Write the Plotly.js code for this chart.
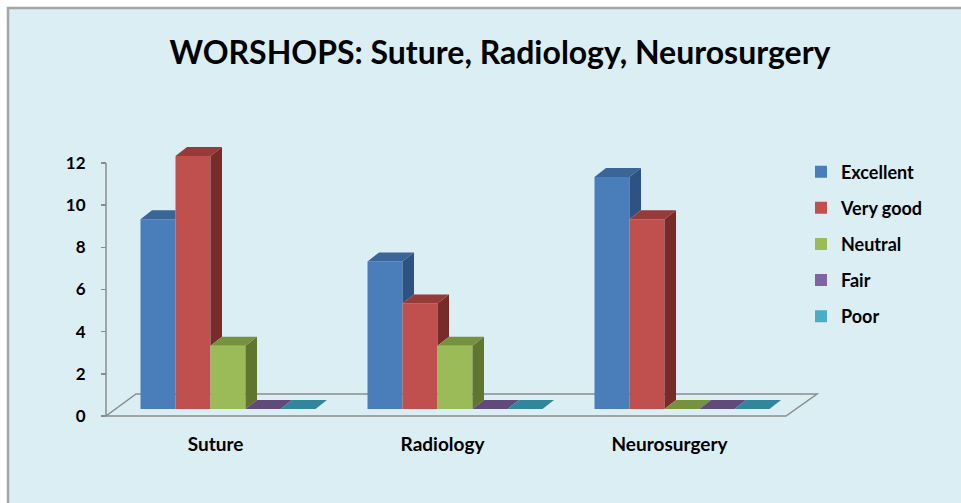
<!DOCTYPE html>
<html>
<head>
<meta charset="utf-8">
<script src="https://cdn.plot.ly/plotly-3.0.1.min.js"></script>
<style>html,body{margin:0;padding:0;background:#fff;}#chart{width:961px;height:503px;}</style>
</head>
<body>
<div id="chart"></div>
<script>
// ---- data ----
const categories = ['Suture', 'Radiology', 'Neurosurgery'];
const seriesNames = ['Excellent', 'Very good', 'Neutral', 'Fair', 'Poor'];
const excellent = [9, 7, 11];
const veryGood = [12, 5, 9];
const neutral = [3, 3, 0];
const fair = [0, 0, 0];
const poor = [0, 0, 0];
const yTicks = [0, 2, 4, 6, 8, 10, 12];
const chartTitle = 'WORSHOPS: Suture, Radiology, Neurosurgery';

// ---- styles ----
const frontColors = ['#4a7ebb', '#c0504d', '#9bbb59', '#8064a2', '#4bacc6'];
const topColors   = ['#3a6596', '#963b39', '#76923c', '#5f4a7b', '#31859c'];
const sideColors  = ['#2e5382', '#772c2a', '#5f7530', '#4d3b63', '#276a7c'];
const FONT = 'Lato, "Open Sans", sans-serif';
const BAR_W = 35 / 227;      // bar width in category units
const DX = 11.5 / 227;       // depth offset (x units)
const DY = 9 / 21.08;        // depth offset (y units)
const LABEL_SHIFT = 0.055;   // category labels sit on the front floor edge

const series = [excellent, veryGood, neutral, fair, poor];
const catIdx = categories.map((_, i) => i);

const traces = [];
// front faces: real bar traces
series.forEach((vals, s) => {
  traces.push({
    type: 'bar', name: seriesNames[s], x: catIdx, y: vals,
    width: BAR_W, offset: (s - 2.5) * BAR_W,
    xaxis: 'x', yaxis: 'y2',
    marker: {color: frontColors[s], line: {width: 0}},
    legendgroup: 'g' + s, hoverinfo: 'name+y'
  });
});
// top and side faces, derived from the same values
series.forEach((vals, s) => {
  const sx = [], sy = [], tx = [], ty = [];
  catIdx.forEach(c => {
    const v = vals[c];
    const nextV = s < series.length - 1 ? series[s + 1][c] : 0;
    const xl = c + (s - 2.5) * BAR_W, xr = xl + BAR_W;
    // side face (only part not hidden by the next bar)
    const base = Math.max(0, nextV);
    if (v > base) {
      sx.push(xr, xr, xr + DX, xr + DX, null);
      sy.push(base, v, v + DY, base + DY, null);
    }
    // top face
    if (nextV > v) {
      tx.push(xl, xr, xr, xl + DX, null);
      ty.push(v, v, v + DY, v + DY, null);
    } else {
      tx.push(xl, xr, xr + DX, xl + DX, null);
      ty.push(v, v, v + DY, v + DY, null);
    }
  });
  traces.push({type: 'scatter', mode: 'lines', x: sx, y: sy, xaxis: 'x', yaxis: 'y2',
    fill: 'toself', fillcolor: sideColors[s], line: {width: 0, color: sideColors[s]},
    showlegend: false, hoverinfo: 'skip'});
  traces.push({type: 'scatter', mode: 'lines', x: tx, y: ty, xaxis: 'x', yaxis: 'y2',
    fill: 'toself', fillcolor: topColors[s], line: {width: 0, color: topColors[s]},
    showlegend: false, hoverinfo: 'skip'});
});

// floor geometry (x in category units, y in bar-axis units)
const floorFL = [-0.5374, -0.332], floorFR = [2.458, -0.332];
const floorBR = [2.5947, 0.7116], floorBL = [-0.4053, 0.7116];

const layout = {
  width: 961, height: 503,
  margin: {l: 98, r: 139, t: 140, b: 81, pad: 0},
  paper_bgcolor: '#ffffff', plot_bgcolor: 'rgba(0,0,0,0)',
  font: {family: FONT, color: '#000'},
  title: {text: chartTitle, font: {family: FONT, size: 32, weight: 700, color: '#000'},
          x: 0.5203, xanchor: 'center', xref: 'container', y: 1 - 53 / 503, yanchor: 'middle', yref: 'container'},
  barmode: 'overlay',
  showlegend: true,
  legend: {x: 0.971, xanchor: 'left', y: 0.952, yanchor: 'top', traceorder: 'grouped',
           tracegroupgap: 9.7, bgcolor: 'rgba(0,0,0,0)',
           font: {family: FONT, size: 18, weight: 700, color: '#000'}},
  xaxis: {range: [-0.5727, 2.6167], tickvals: catIdx.map(i => i - LABEL_SHIFT), ticktext: categories,
          showgrid: false, zeroline: false, showline: false, ticks: '', ticklabelstandoff: 9,
          tickfont: {family: FONT, size: 19, weight: 700, color: '#000'}, fixedrange: true},
  yaxis: {range: [-0.285, 13.093], tickvals: yTicks, ticktext: yTicks.map(String),
          showgrid: false, zeroline: false, showline: false, ticks: 'outside', ticklen: 5,
          tickcolor: '#8c8c8c', tickwidth: 1.5, anchor: 'free', position: 0.011,
          ticklabelstandoff: 12,
          tickfont: {family: FONT, size: 17, weight: 700, color: '#000'}, fixedrange: true},
  yaxis2: {range: [-0.617, 12.761], overlaying: 'y', showgrid: false, zeroline: false,
           showline: false, showticklabels: false, ticks: '', fixedrange: true},
  shapes: [
    {type: 'rect', xref: 'paper', yref: 'paper', x0: -0.1243, x1: 1.4, y0: -0.5, y1: 1.468,
     fillcolor: '#dbeef4', line: {color: '#a5a5a5', width: 2.5}, layer: 'below'},
    {type: 'path', xref: 'x', yref: 'y2', layer: 'below',
     path: `M${floorFL[0]},${floorFL[1]} L${floorFR[0]},${floorFR[1]} L${floorBR[0]},${floorBR[1]} L${floorBL[0]},${floorBL[1]} Z`,
     fillcolor: 'rgba(0,0,0,0)', line: {color: '#8c8c8c', width: 1.5}},
    {type: 'line', xref: 'x', yref: 'y', layer: 'below', x0: floorFL[0], x1: floorFL[0], y0: 0, y1: 12,
     line: {color: '#8c8c8c', width: 1.5}}
  ]
};

Plotly.newPlot('chart', traces, layout, {displayModeBar: false, staticPlot: true});
</script>
</body>
</html>
